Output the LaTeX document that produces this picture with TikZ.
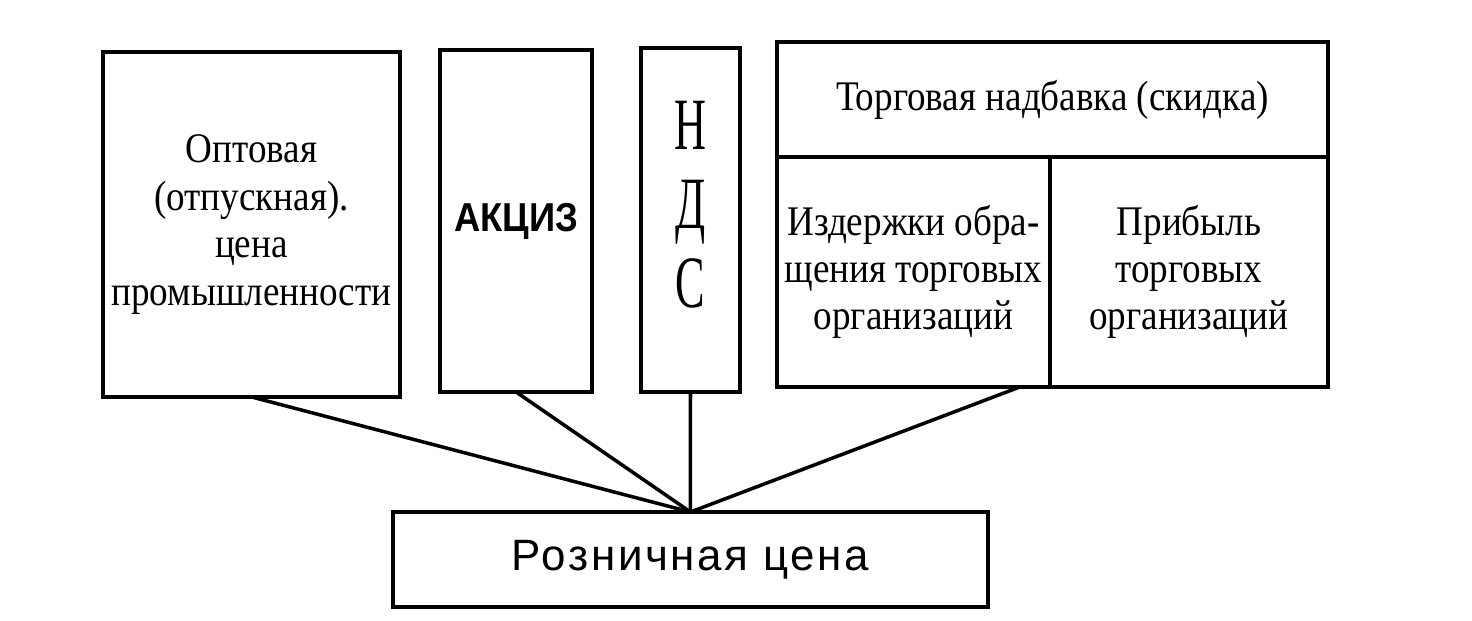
\documentclass[tikz,border=0pt]{standalone}
\usepackage{fontspec}
\setmainfont{Liberation Serif}
\newfontfamily\narrowfont[FakeStretch=0.88]{Liberation Serif}
\newfontfamily\ndsfont[FakeStretch=0.6]{Liberation Serif}
\newfontfamily\akcfont[FakeStretch=0.9]{Liberation Sans}
\newfontfamily\roznfont[LetterSpace=6]{Liberation Sans}
\usetikzlibrary{positioning}

\begin{document}
\begin{tikzpicture}[%
    x=0.02cm, y=-0.02cm,
    line width=2pt,
    box/.style={draw, anchor=north west, align=center, inner sep=0pt, outer sep=0pt,
      font=\narrowfont\fontsize{24}{27}\selectfont},
  ]
    \useasboundingbox (0,0) rectangle (1472,621);

    \node[box, minimum width=5.94cm, minimum height=6.9cm] (opt) at (103,52)
      {Оптовая\\(отпускная).\\цена\\промышленности};
    \node[box, minimum width=3.04cm, minimum height=6.84cm,
      font=\akcfont\bfseries\fontsize{23}{26}\selectfont] (akc) at (440,50) {АКЦИЗ};
    \node[box, minimum width=1.98cm, minimum height=6.88cm] (nds) at (641,48) {};
    \node[font=\ndsfont\fontsize{42}{45}\selectfont, align=center]
      at ([yshift=0.3cm]nds.center) {Н\\Д\\С};

    \node[box, minimum width=11.02cm, minimum height=2.3cm] (nadb) at (777,42)
      {Торговая надбавка (скидка)};
    \node[box, minimum width=5.46cm, minimum height=4.6cm]
      (izd) [below right=0pt and 0pt of nadb.south west]
      {Издержки обра-\\щения торговых\\организаций};
    \node[box, minimum width=5.56cm, minimum height=4.6cm, anchor=west]
      (prib) [right=0pt of izd] {Прибыль\\торговых\\организаций};

    \node[box, minimum width=11.9cm, minimum height=1.9cm,
      font=\roznfont\fontsize{25}{28}\selectfont] (rozn) at (393,512) {Розничная цена};

    \coordinate (izdfoot) at ([xshift=-0.6cm]izd.south east);
    \draw (opt.south) -- (rozn.north);
    \draw (akc.south) -- (rozn.north);
    \draw (nds.south) -- (rozn.north);
    \draw (izdfoot) -- (rozn.north);
  \end{tikzpicture}
\end{document}
